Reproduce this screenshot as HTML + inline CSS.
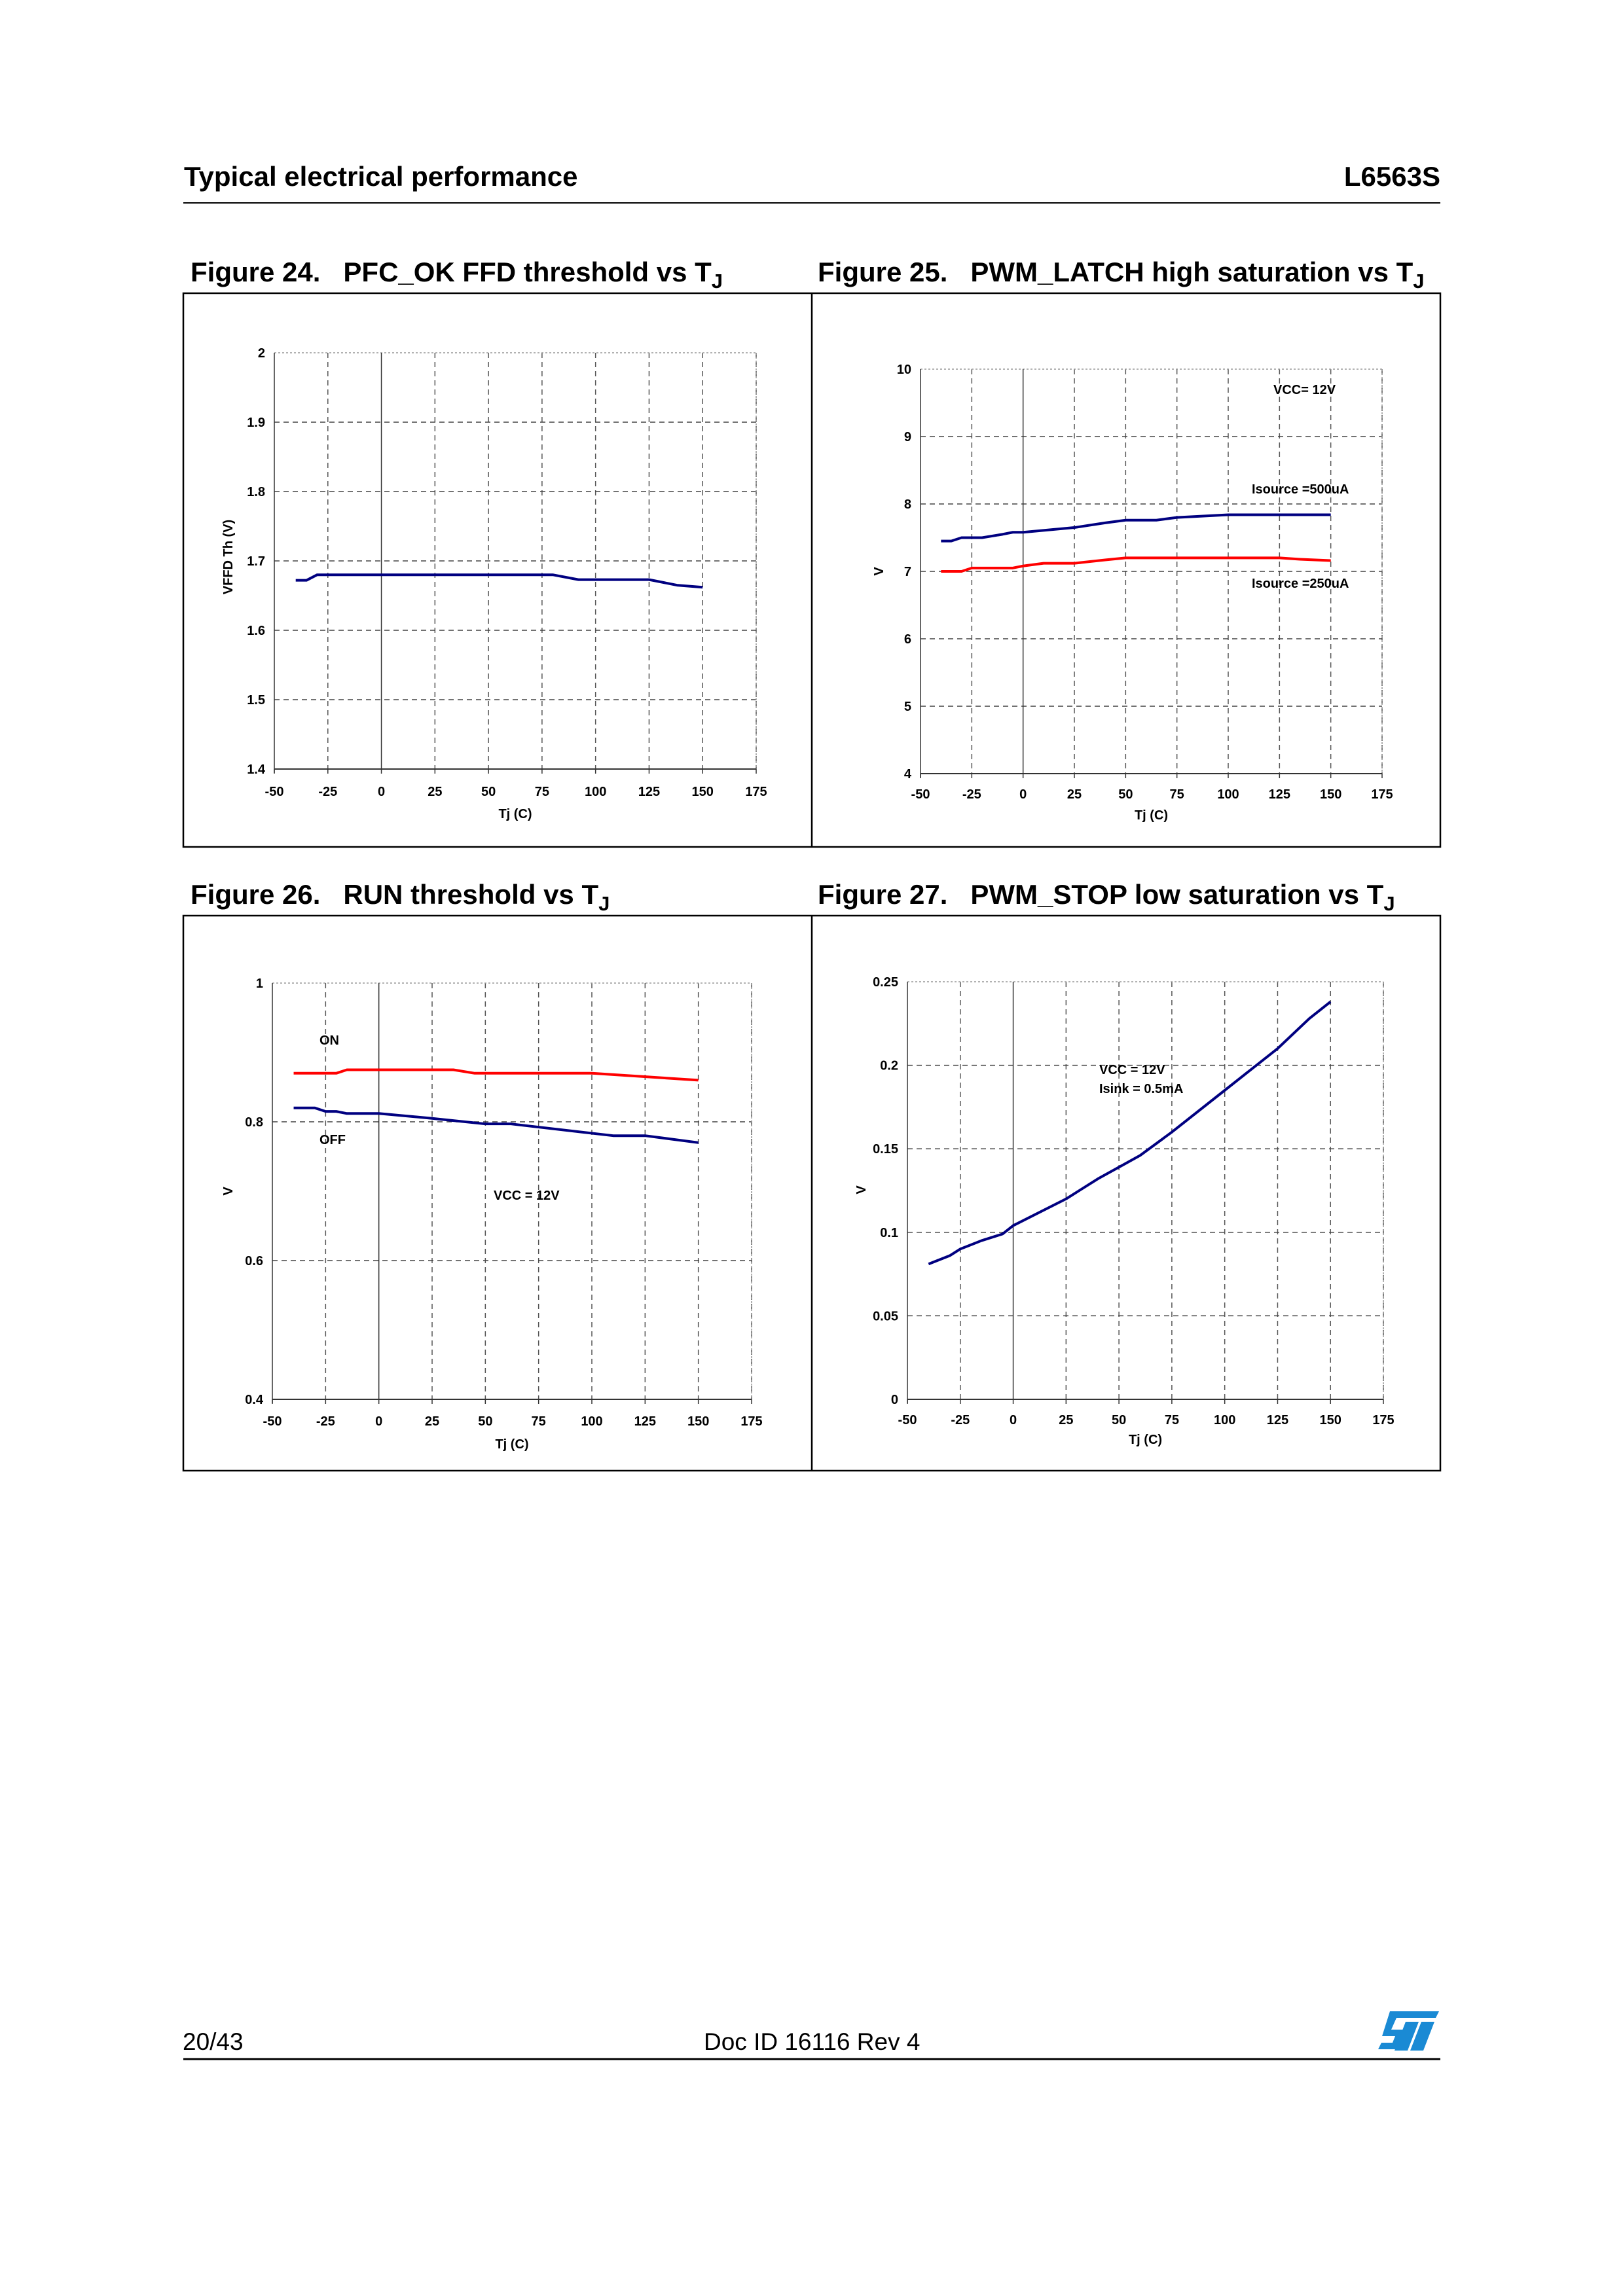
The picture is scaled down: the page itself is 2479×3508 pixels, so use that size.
<!DOCTYPE html>
<html><head><meta charset="utf-8"><style>
html,body{margin:0;padding:0;background:#fff}
svg{display:block}
text{font-family:"Liberation Sans",Arial,sans-serif}
</style></head><body>
<svg id="s" width="2479" height="3508" xmlns="http://www.w3.org/2000/svg">
<rect width="2479" height="3508" fill="#fff"/>
<text x="281" y="284" font-size="42" font-weight="bold">Typical electrical performance</text>
<text x="2200" y="284" font-size="42" font-weight="bold" text-anchor="end">L6563S</text>
<line x1="280" y1="310" x2="2200" y2="310" stroke="#000" stroke-width="2"/>
<text x="291" y="430" font-size="42" font-weight="bold">Figure 24.&#160;&#160;&#160;PFC_OK FFD threshold vs T<tspan dy="10" font-size="31">J</tspan></text>
<text x="1249" y="430" font-size="42" font-weight="bold">Figure 25.&#160;&#160;&#160;PWM_LATCH high saturation vs T<tspan dy="10" font-size="31">J</tspan></text>
<text x="291" y="1381" font-size="42" font-weight="bold">Figure 26.&#160;&#160;&#160;RUN threshold vs T<tspan dy="10" font-size="31">J</tspan></text>
<text x="1249" y="1381" font-size="42" font-weight="bold">Figure 27.&#160;&#160;&#160;PWM_STOP low saturation vs T<tspan dy="10" font-size="31">J</tspan></text>
<rect x="280" y="448" width="1920" height="846" fill="none" stroke="#000" stroke-width="2.5"/>
<line x1="1240" y1="448" x2="1240" y2="1294" stroke="#000" stroke-width="2.5"/>
<rect x="280" y="1399" width="1920" height="848" fill="none" stroke="#000" stroke-width="2.5"/>
<line x1="1240" y1="1399" x2="1240" y2="2247" stroke="#000" stroke-width="2.5"/>
<g id="charts"></g>
<text x="279" y="3132" font-size="37">20/43</text>
<text x="1075" y="3132" font-size="37">Doc ID 16116 Rev 4</text>
<line x1="280" y1="3146" x2="2200" y2="3146" stroke="#000" stroke-width="3"/>
<g transform="translate(2105,3073)">
<polygon points="18,0 93,0 88,10 28,10 20,28 40,28 32,58 0,58 5,48 22,48 26,38 6,38" fill="#1a8ad4"/>
<polygon points="42,16 62,16 45,60 25,60" fill="#1a8ad4"/>
<polygon points="66,16 86,16 69,60 49,60" fill="#1a8ad4"/>
</g>
</svg>
<script>
var NS="http://www.w3.org/2000/svg",G=document.getElementById("charts");
function el(t,a,txt){var e=document.createElementNS(NS,t);for(var k in a)e.setAttribute(k,a[k]);if(txt!=null)e.textContent=txt;G.appendChild(e);return e;}
function chart(c){
 var X=function(v){return c.x0+(v+50)/225*(c.x1-c.x0)},Y=function(v){return c.y1-(v-c.ymin)/(c.ymax-c.ymin)*(c.y1-c.y0)};
 for(var t=-25;t<=175;t+=25){ if(t==0)continue; el("line",{x1:X(t),y1:c.y0,x2:X(t),y2:c.y1,stroke:"#555","stroke-width":1.5,"stroke-dasharray":"8,6"});}
 c.yt.forEach(function(v,i){ if(i>0&&i<c.yt.length-1) el("line",{x1:c.x0,y1:Y(v),x2:c.x1,y2:Y(v),stroke:"#444","stroke-width":1.5,"stroke-dasharray":"8,6"});});
 el("line",{x1:c.x0,y1:c.y0,x2:c.x1,y2:c.y0,stroke:"#999","stroke-width":1.5,"stroke-dasharray":"3,3"});
 el("line",{x1:c.x1,y1:c.y0,x2:c.x1,y2:c.y1,stroke:"#999","stroke-width":1.5,"stroke-dasharray":"3,3"});
 el("line",{x1:X(0),y1:c.y0,x2:X(0),y2:c.y1,stroke:"#333","stroke-width":1.5});
 el("line",{x1:c.x0,y1:c.y0,x2:c.x0,y2:c.y1+6,stroke:"#333","stroke-width":1.5});
 el("line",{x1:c.x0,y1:c.y1,x2:c.x1,y2:c.y1,stroke:"#333","stroke-width":2});
 for(var t=-50;t<=175;t+=25){el("line",{x1:X(t),y1:c.y1,x2:X(t),y2:c.y1+7,stroke:"#333","stroke-width":1.5});
  el("text",{x:X(t),y:c.lx,"font-size":20,"font-weight":"bold","text-anchor":"middle"},t);}
 c.yt.forEach(function(v){el("text",{x:c.x0-14,y:Y(v)+7,"font-size":20,"font-weight":"bold","text-anchor":"end"},c.fmt?c.fmt(v):v);});
 el("text",{x:(c.x0+c.x1)/2,y:c.xl,"font-size":20,"font-weight":"bold","text-anchor":"middle"},"Tj (C)");
 el("text",{x:c.vx,y:c.vy,"font-size":20,"font-weight":"bold","text-anchor":"middle",transform:"rotate(-90 "+c.vx+" "+c.vy+")"},c.ylab);
 c.series.forEach(function(s){el("polyline",{points:s.d.map(function(p){return X(p[0])+","+Y(p[1])}).join(" "),fill:"none",stroke:s.c,"stroke-width":4,"stroke-linejoin":"round"});});
 (c.notes||[]).forEach(function(n){el("text",{x:n[0],y:n[1],"font-size":20,"font-weight":"bold"},n[2]);});
}
chart({x0:419,x1:1155,y0:539,y1:1175,ymin:1.4,ymax:2,yt:[1.4,1.5,1.6,1.7,1.8,1.9,2],fmt:function(v){return v==2?"2":v.toFixed(1)},lx:1216,xl:1250,vx:355,vy:851,ylab:"VFFD Th (V)",
 series:[{c:"#000080",d:[[-40,1.672],[-35,1.672],[-30,1.68],[80,1.68],[92,1.673],[125,1.673],[138,1.665],[150,1.662]]}]});
chart({x0:1406,x1:2111,y0:564,y1:1182,ymin:4,ymax:10,yt:[4,5,6,7,8,9,10],lx:1220,xl:1252,vx:1349,vy:873,ylab:"V",
 series:[{c:"#000080",d:[[-40,7.45],[-35,7.45],[-30,7.5],[-20,7.5],[-10,7.55],[-5,7.58],[0,7.58],[25,7.65],[40,7.72],[50,7.76],[65,7.76],[75,7.8],[100,7.84],[150,7.84]]},
 {c:"#ff0000",d:[[-40,7.0],[-30,7.0],[-25,7.05],[-5,7.05],[0,7.08],[10,7.12],[25,7.12],[40,7.17],[50,7.2],[125,7.2],[135,7.18],[150,7.16]]}],
 notes:[[1945,602,"VCC= 12V"],[1912,754,"Isource =500uA"],[1912,898,"Isource =250uA"]]});
chart({x0:416,x1:1148,y0:1502,y1:2138,ymin:0.4,ymax:1,yt:[0.4,0.6,0.8,1],fmt:function(v){return v==1?"1":v.toFixed(1)},lx:2178,xl:2213,vx:355,vy:1820,ylab:"V",
 series:[{c:"#ff0000",d:[[-40,0.87],[-20,0.87],[-15,0.875],[35,0.875],[45,0.87],[100,0.87],[150,0.86]]},
 {c:"#000080",d:[[-40,0.82],[-30,0.82],[-25,0.815],[-20,0.815],[-15,0.812],[0,0.812],[25,0.805],[50,0.797],[62,0.797],[110,0.78],[125,0.78],[150,0.77]]}],
 notes:[[488,1596,"ON"],[488,1748,"OFF"],[754,1833,"VCC = 12V"]]});
chart({x0:1386,x1:2113,y0:1500,y1:2138,ymin:0,ymax:0.25,yt:[0,0.05,0.1,0.15,0.2,0.25],fmt:function(v){return v==0?"0":String(+v.toFixed(2))},lx:2176,xl:2206,vx:1322,vy:1818,ylab:"V",
 series:[{c:"#000080",d:[[-40,0.081],[-30,0.086],[-25,0.09],[-15,0.095],[-10,0.097],[-5,0.099],[0,0.104],[25,0.12],[40,0.132],[60,0.146],[75,0.16],[100,0.185],[125,0.21],[140,0.228],[150,0.238]]}],
 notes:[[1679,1641,"VCC = 12V"],[1679,1670,"Isink = 0.5mA"]]});
</script>
</body></html>
